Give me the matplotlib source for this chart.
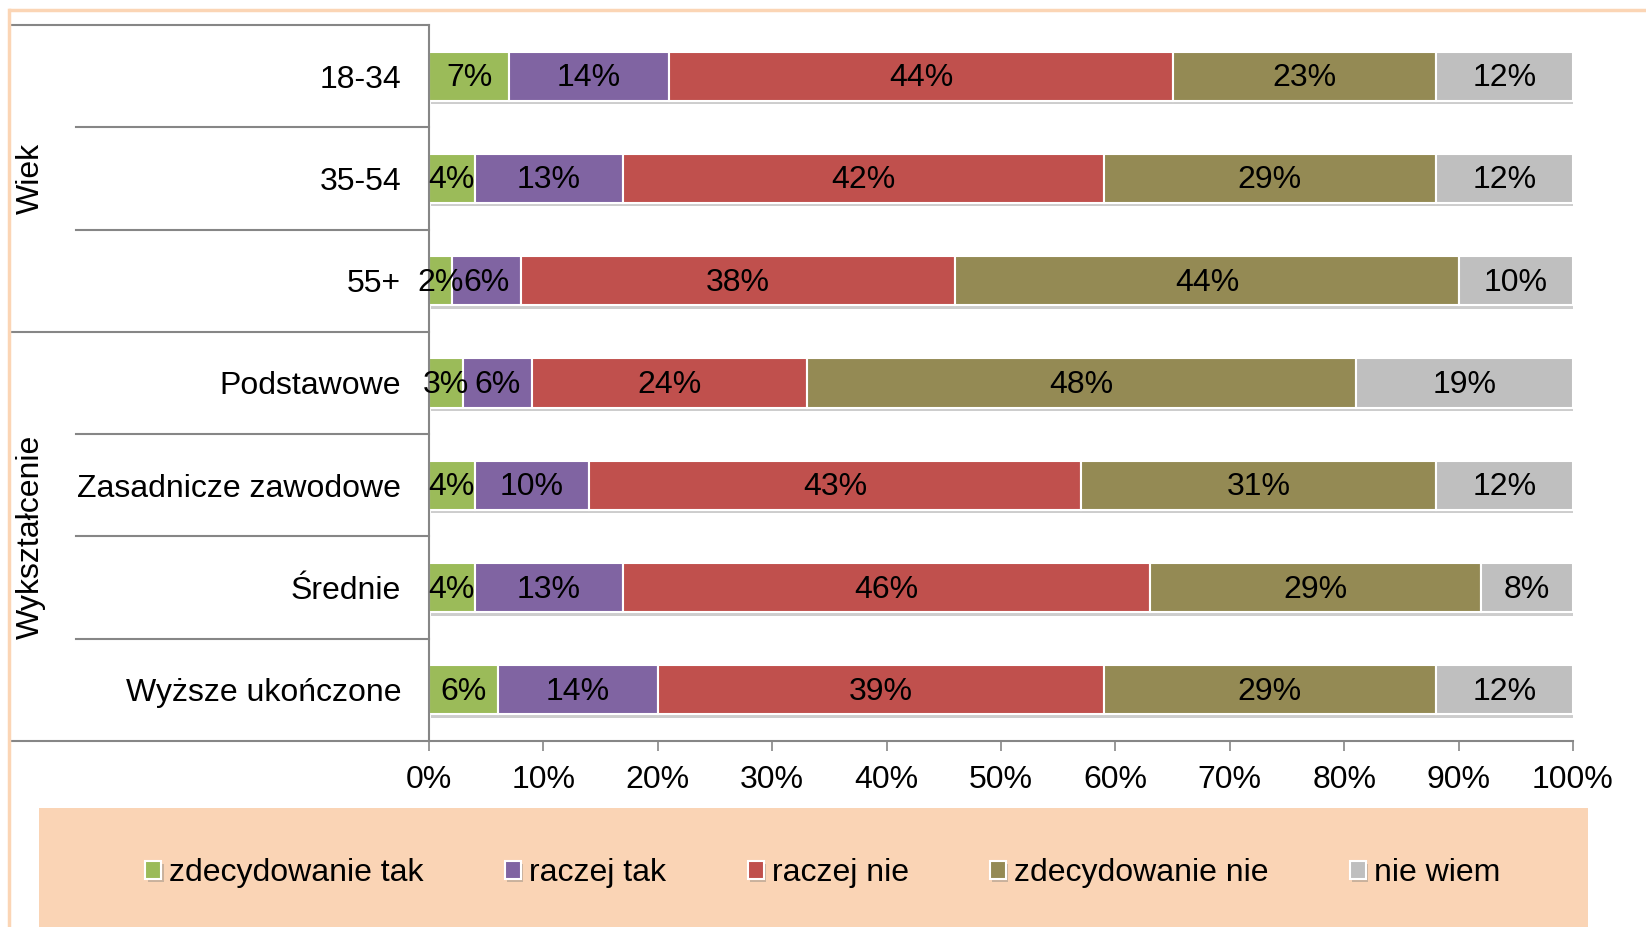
import numpy as np
import matplotlib
matplotlib.use("Agg")
import matplotlib.pyplot as plt
import matplotlib.patheffects as pe
from matplotlib.patches import Rectangle
from matplotlib.lines import Line2D

plt.rcParams['font.family'] = ['Liberation Sans', 'DejaVu Sans']

# categories, top to bottom
categories = ['18-34', '35-54', '55+', 'Podstawowe', 'Zasadnicze zawodowe',
              'Średnie', 'Wyższe ukończone']
groups = ['Wiek', 'Wykształcenie']
group_sizes = [3, 4]

series = ['zdecydowanie tak', 'raczej tak', 'raczej nie', 'zdecydowanie nie', 'nie wiem']
zdecydowanie_tak = [7, 4, 2, 3, 4, 4, 6]
raczej_tak = [14, 13, 6, 6, 10, 13, 14]
raczej_nie = [44, 42, 38, 24, 43, 46, 39]
zdecydowanie_nie = [23, 29, 44, 48, 31, 29, 29]
nie_wiem = [12, 12, 10, 19, 12, 8, 12]

colors = ['#9BBB59', '#8064A2', '#C0504D', '#948A54', '#BFBFBF']
values = [zdecydowanie_tak, raczej_tak, raczej_nie, zdecydowanie_nie, nie_wiem]

FS = 23
W, H = 1646, 927
fig = plt.figure(figsize=(W / 100, H / 100), dpi=100)

# orange chart frame (top and left edges visible)
fig.add_artist(Line2D([10 / W, 1], [1 - 10 / H, 1 - 10 / H], color='#FBD5B5', lw=2.5,
                      transform=fig.transFigure))
fig.add_artist(Line2D([9 / W, 9 / W], [0, 1 - 10 / H], color='#FBD5B5', lw=2.5,
                      transform=fig.transFigure))

# legend background
fig.add_artist(Rectangle((39 / W, 0), (1588 - 39) / W, (927 - 808) / H,
                         facecolor='#FAD4B5', edgecolor='none', transform=fig.transFigure,
                         zorder=0))

ax = fig.add_axes([429 / W, 186 / H, 1144 / W, 716 / H])

y = np.arange(len(categories))
left = np.zeros(len(categories))
shadow = [pe.SimplePatchShadow(offset=(1.5, -2.5), shadow_rgbFace='#707070', alpha=0.35),
          pe.Normal()]
for name, vals, col in zip(series, values, colors):
    vals = np.array(vals, dtype=float)
    ax.barh(y, vals, left=left, height=0.48, color=col, edgecolor='white',
            linewidth=1.5, label=name, path_effects=shadow)
    for yi, l, v in zip(y, left, vals):
        ax.text(l + v / 2, yi + 0.02, '{:.0f}%'.format(v), ha='center', va='center',
                fontsize=FS, color='black')
    left += vals

ax.set_xlim(0, 100)
ax.set_ylim(len(categories) - 0.5, -0.5)
ax.set_xticks(np.arange(0, 101, 10))
ax.set_xticklabels(['{}%'.format(t) for t in range(0, 101, 10)], fontsize=FS)
ax.tick_params(axis='x', length=7, width=1.2, color='#868686', pad=10)
ax.set_yticks(y)
ax.set_yticklabels(categories, fontsize=FS)
ax.tick_params(axis='y', length=0, pad=20)

for s in ['top', 'right']:
    ax.spines[s].set_visible(False)
ax.spines['left'].set_color('#868686')
ax.spines['left'].set_linewidth(1.5)
ax.spines['bottom'].set_color('#868686')
ax.spines['bottom'].set_linewidth(1.5)

# multi-level category axis lines
trans = ax.get_yaxis_transform()
x_inner = (76 - 429) / 1144
x_outer = (12 - 429) / 1144
x_group_lbl = (31 - 429) / 1144
bounds = np.cumsum([0] + group_sizes) - 0.5
for b in np.arange(-0.5, len(categories) + 0.5):
    x0 = x_outer if b in bounds else x_inner
    ax.plot([x0, 0], [b, b], color='#868686', lw=1.5, transform=trans, clip_on=False)

for g, s0, n in zip(groups, bounds[:-1], group_sizes):
    ax.text(x_group_lbl, s0 + n / 2, g, rotation=90, ha='center', va='center',
            fontsize=FS, transform=trans)

handles, labels = ax.get_legend_handles_labels()
leg = fig.legend(handles, labels, loc='center', bbox_to_anchor=(0.5, 54 / H), ncol=5,
                 frameon=False, fontsize=FS, handlelength=0.5, handleheight=0.5,
                 handletextpad=0.25, columnspacing=2.55)

fig.savefig('out.png', dpi=100)
